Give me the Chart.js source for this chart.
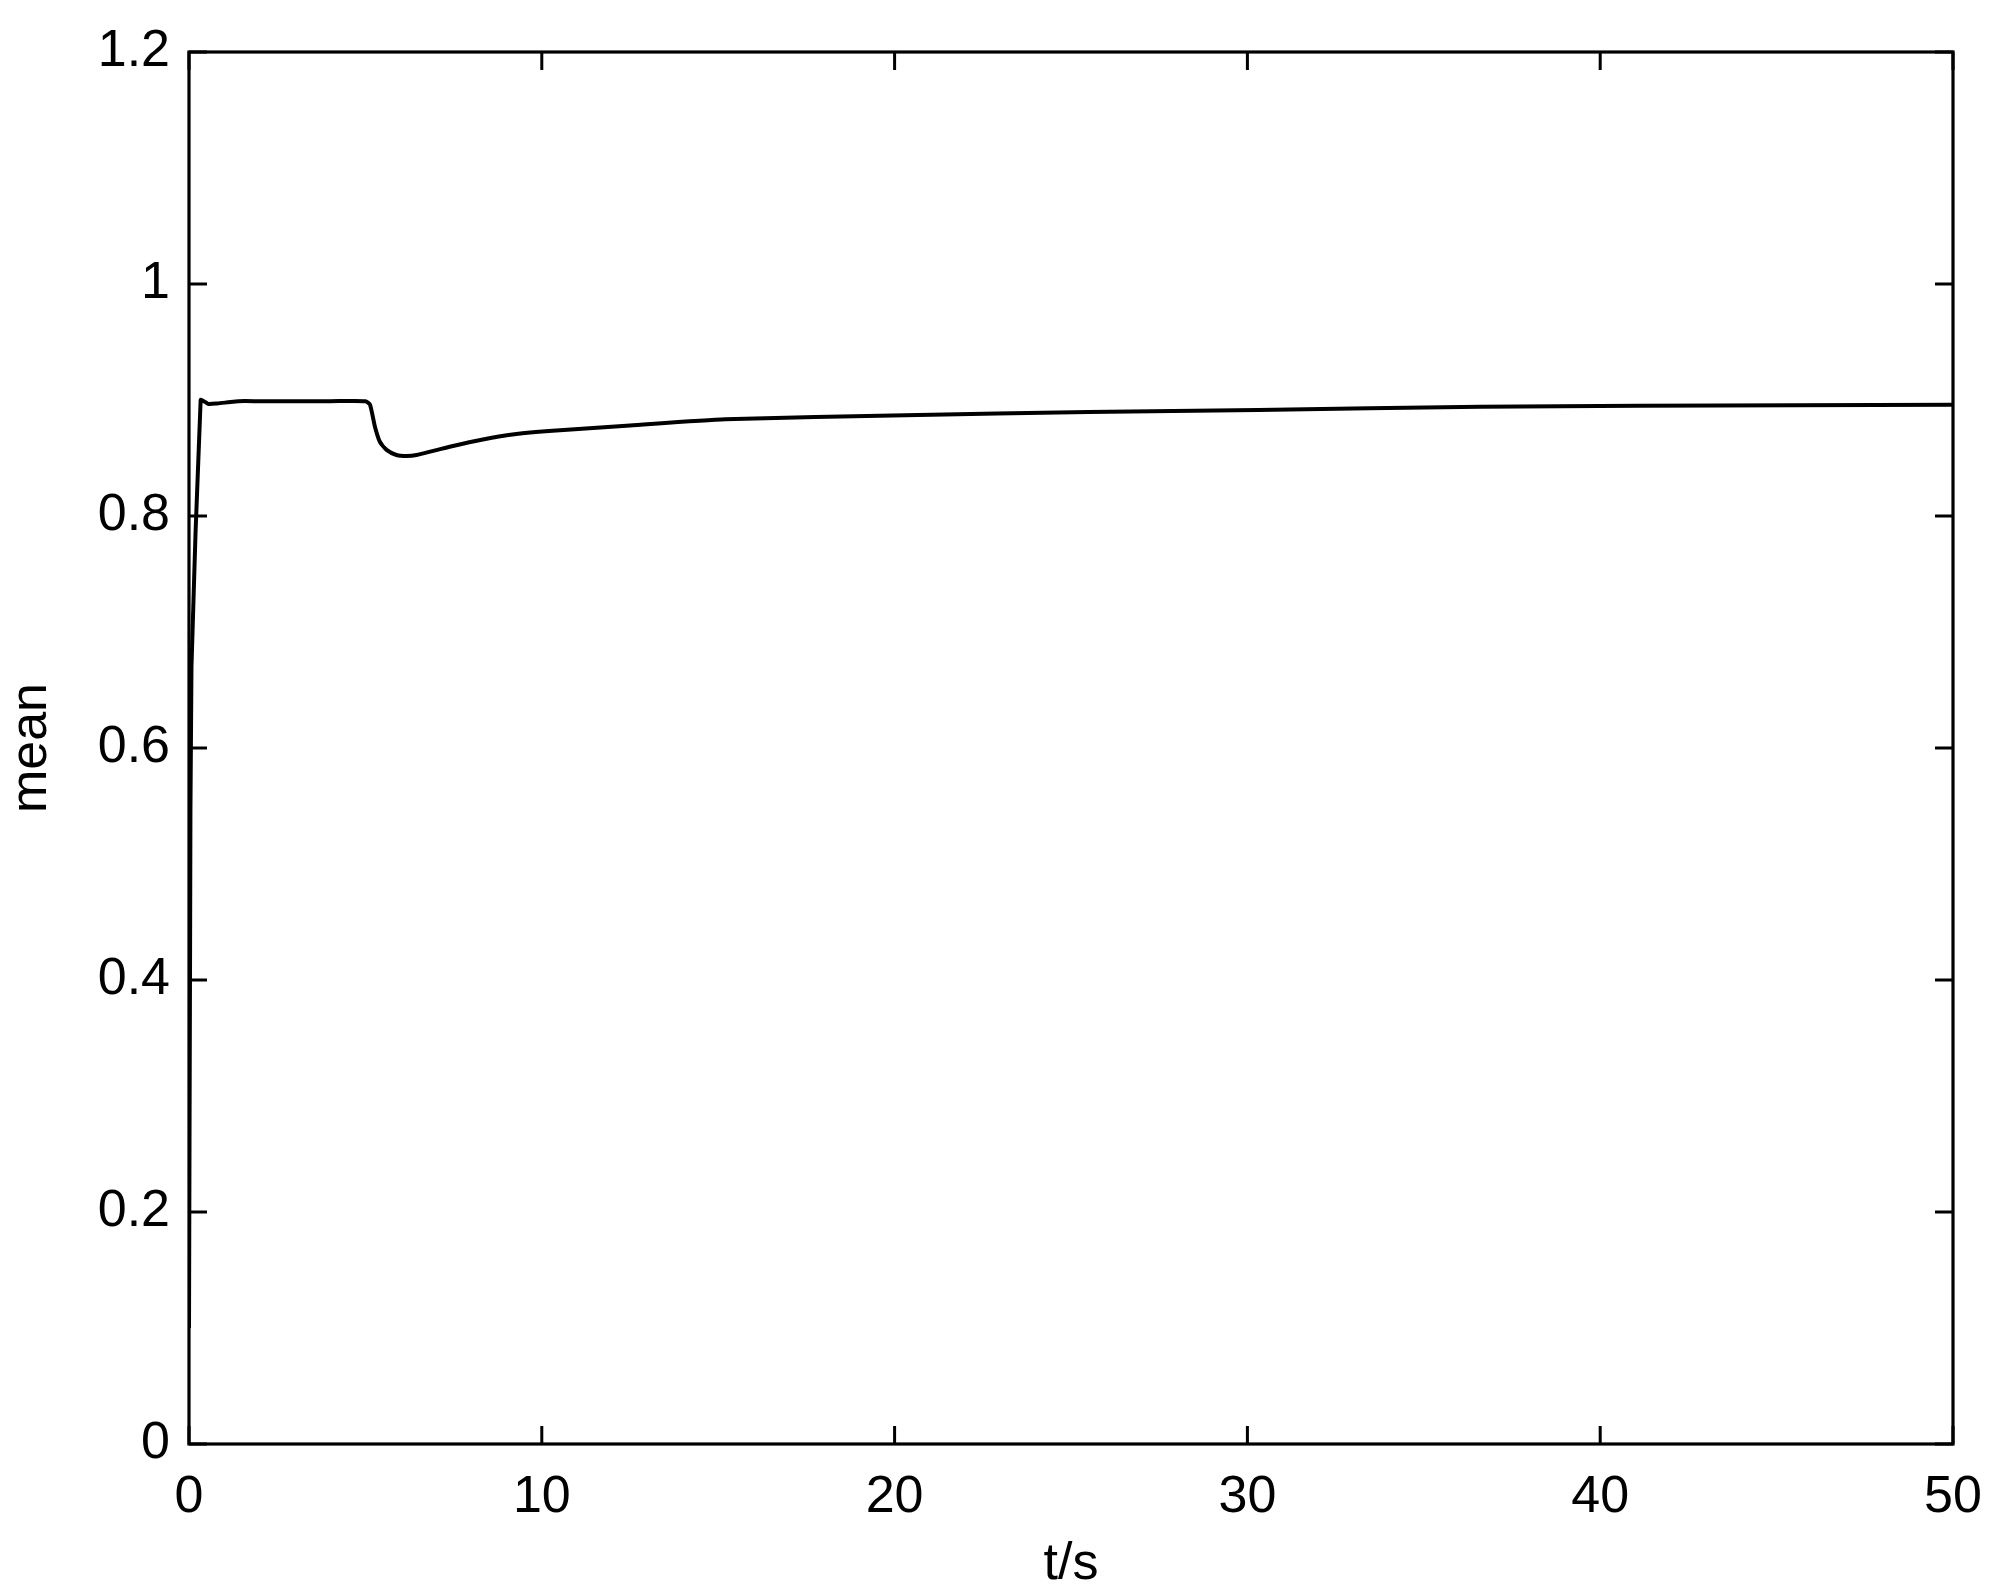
<!DOCTYPE html>
<html>
<head>
<meta charset="utf-8">
<script src="https://cdn.jsdelivr.net/npm/chart.js@4/dist/chart.umd.min.js"></script>
<style>
  html, body { margin: 0; padding: 0; background: #fff; }
  #wrap { width: 1999px; height: 1596px; }
</style>
</head>
<body>
<div id="wrap"><canvas id="meanChart" width="1999" height="1596"></canvas></div>
<script>
// values
const tValues = [0, 0.03, 0.07, 0.33, 0.42, 0.55, 0.8, 1.1, 1.4, 2, 3, 4, 5,
  5.13, 5.27, 5.41, 5.6, 5.88, 6.17, 6.45, 7.39, 8.33, 9.28, 10.2, 12.5,
  15.2, 20.3, 25.5, 30.3, 36.6, 41.1, 50];
const meanValues = [0.1, 0.42, 0.67, 0.9, 0.899, 0.8966, 0.897, 0.898, 0.899, 0.899, 0.899, 0.899, 0.899,
  0.896, 0.877, 0.864, 0.857, 0.8526, 0.8517, 0.8526, 0.8597, 0.866, 0.8707, 0.8733, 0.878,
  0.8833, 0.8868, 0.8897, 0.8914, 0.8942, 0.895, 0.8958];
const xTicks = [0, 10, 20, 30, 40, 50];
const yTicks = [0, 0.2, 0.4, 0.6, 0.8, 1, 1.2];

const FONT = 'Liberation Sans, Arial, Helvetica, sans-serif';

// inward ticks on all four sides plus the box frame
const frameTicks = {
  id: 'frameTicks',
  afterDatasetsDraw(chart) {
    const { ctx, chartArea: a, scales } = chart;
    const len = 18;
    ctx.save();
    ctx.strokeStyle = '#000';
    ctx.lineWidth = 3;
    ctx.beginPath();
    xTicks.forEach(v => {
      const px = scales.x.getPixelForValue(v);
      ctx.moveTo(px, a.bottom); ctx.lineTo(px, a.bottom - len);
      ctx.moveTo(px, a.top); ctx.lineTo(px, a.top + len);
    });
    yTicks.forEach(v => {
      const py = scales.y.getPixelForValue(v);
      ctx.moveTo(a.left, py); ctx.lineTo(a.left + len, py);
      ctx.moveTo(a.right, py); ctx.lineTo(a.right - len, py);
    });
    ctx.stroke();
    ctx.lineWidth = 3.2;
    ctx.strokeRect(a.left, a.top, a.right - a.left, a.bottom - a.top);
    ctx.restore();
  }
};

new Chart(document.getElementById('meanChart').getContext('2d'), {
  type: 'line',
  data: {
    datasets: [{
      label: 'mean',
      data: tValues.map((t, i) => ({ x: t, y: meanValues[i] })),
      borderColor: '#000',
      borderWidth: 4,
      pointRadius: 0,
      tension: 0.2,
      fill: false,
    }]
  },
  options: {
    responsive: false,
    animation: false,
    layout: { padding: { top: 52, right: 46, left: 0, bottom: 0 } },
    plugins: { legend: { display: false }, tooltip: { enabled: false } },
    scales: {
      x: {
        type: 'linear',
        min: 0, max: 50,
        afterBuildTicks: s => { s.ticks = xTicks.map(v => ({ value: v })); },
        afterFit: s => { s.height = 152; s.paddingLeft = 0; s.paddingRight = 0; },
        grid: { display: false, drawTicks: false },
        border: { display: false },
        ticks: { color: '#000', padding: 22, maxRotation: 0, font: { family: FONT, size: 52 } },
        title: { display: true, text: 't/s', color: '#000', padding: { top: 4, bottom: 0 }, font: { family: FONT, size: 52 } }
      },
      y: {
        type: 'linear',
        min: 0, max: 1.2,
        afterBuildTicks: s => { s.ticks = yTicks.map(v => ({ value: v })); },
        afterFit: s => { s.width = 189; s.paddingTop = 0; s.paddingBottom = 0; },
        grid: { display: false, drawTicks: false },
        border: { display: false },
        ticks: { color: '#000', padding: 19, font: { family: FONT, size: 52 },
          callback: v => String(+v.toFixed(1)) },
        title: { display: true, text: 'mean', color: '#000', padding: { top: 0, bottom: 0 }, font: { family: FONT, size: 52 } }
      }
    }
  },
  plugins: [frameTicks]
});
</script>
</body>
</html>
